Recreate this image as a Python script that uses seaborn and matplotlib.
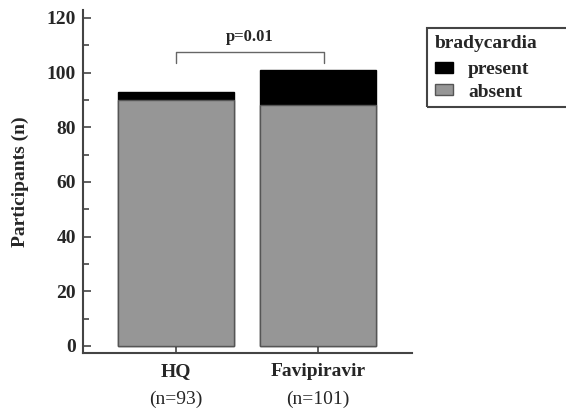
import pandas as pd
import seaborn as sns
import matplotlib.pyplot as plt
from matplotlib.patches import Patch, Rectangle
from matplotlib.ticker import MultipleLocator

# Data
groups = ["HQ", "Favipiravir"]
n_labels = ["(n=93)", "(n=101)"]
absent = [90, 88]
present = [3, 13]
p_text = "p=0.01"

df = pd.DataFrame({"group": groups, "absent": absent, "present": present})
df["total"] = df["absent"] + df["present"]

sns.set_style("ticks")
plt.rcParams["font.family"] = ["Liberation Serif", "DejaVu Serif"]
plt.rcParams["font.weight"] = "bold"

gray = "#969696"
edge = "#555555"
fs = 14

fig = plt.figure(figsize=(5.66, 4.12), dpi=100)
ax = fig.add_axes([83 / 566, 59 / 412, 329 / 566, 343 / 412])

# stacked bars: total (black, present) then absent (gray) on top
sns.barplot(x="group", y="total", data=df, order=groups, color="black",
            edgecolor="black", linewidth=1, width=0.82, saturation=1,
            errorbar=None, ax=ax)
sns.barplot(x="group", y="absent", data=df, order=groups, color=gray,
            edgecolor=edge, linewidth=1, width=0.82, saturation=1,
            errorbar=None, ax=ax)

ax.set_xlim(-0.655, 1.662)
ax.set_ylim(-2.6, 122.9)
ax.yaxis.set_major_locator(MultipleLocator(20))
ax.yaxis.set_minor_locator(MultipleLocator(10))
ax.set_yticks(range(0, 121, 20))

for s in ["top", "right"]:
    ax.spines[s].set_visible(False)
for s in ["left", "bottom"]:
    ax.spines[s].set_color("#444444")
    ax.spines[s].set_linewidth(1.5)

ax.tick_params(axis="both", which="major", direction="in", length=6,
               width=1.2, color="#444444", labelsize=fs)
ax.tick_params(axis="y", which="minor", direction="in", length=4,
               width=1.2, color="#444444")
ax.tick_params(axis="y", which="major", pad=5)
ax.tick_params(axis="x", which="major", pad=7)
ax.set_xticks(range(len(groups)))
ax.set_xticklabels(groups, fontsize=fs, fontweight="bold")
for lab in ax.get_yticklabels():
    lab.set_fontweight("bold")

ax.set_xlabel("")
ax.set_ylabel("Participants (n)", fontsize=fs, fontweight="bold", labelpad=13)

# n counts below group names
for i, t in enumerate(n_labels):
    ax.text(i, -0.134, t, transform=ax.get_xaxis_transform(), ha="center",
            va="center", fontsize=fs, fontweight="normal", clip_on=False)

# significance bracket
top = max(df["total"])
x0, x1 = 0, len(groups) - 1 + 0.04
y_low, y_high = top + 2.4, top + 6.4
ax.plot([x0, x0, x1, x1], [y_low, y_high, y_high, y_low], color="#666666",
        lw=1, clip_on=False)
ax.text((x0 + x1) / 2, y_high + 2.8, p_text, ha="center", va="bottom",
        fontsize=12, fontweight="bold")

# legend with manual frame that runs off the right edge
fig.patches.append(Rectangle((427 / 566, 1 - 107 / 412), 0.5, 79 / 412,
                             transform=fig.transFigure, fill=False,
                             edgecolor="#444444", linewidth=1.5))
fig.text(435 / 566, 1 - 43 / 412, "bradycardia", ha="left", va="center",
         fontsize=fs, fontweight="bold")
handles = [Patch(facecolor="black", edgecolor="black", label="present"),
           Patch(facecolor=gray, edgecolor=edge, label="absent")]
leg = fig.legend(handles=handles, loc="upper left",
                 bbox_to_anchor=(435 / 566, 1 - 61 / 412), frameon=False,
                 fontsize=fs, handlelength=0.95, handleheight=0.5,
                 handletextpad=0.75, labelspacing=0.3, borderpad=0,
                 borderaxespad=0)
for t in leg.get_texts():
    t.set_fontweight("bold")

fig.savefig("out.png", dpi=100)
